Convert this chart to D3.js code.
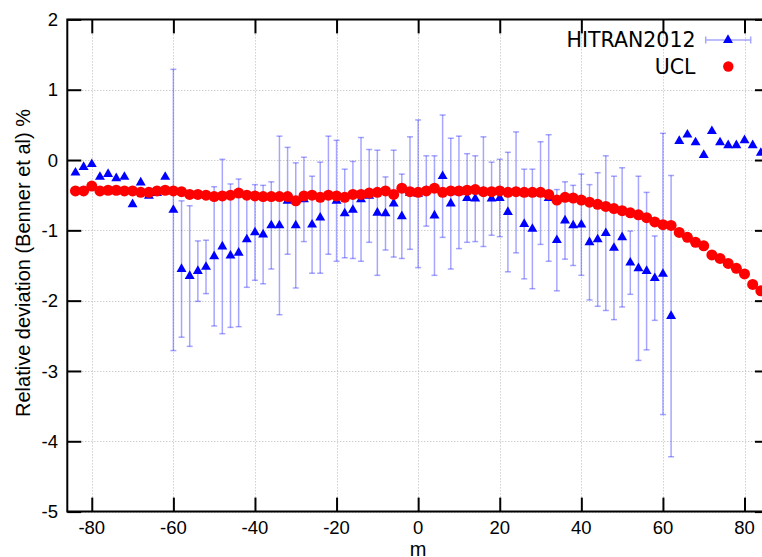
<!DOCTYPE html>
<html>
<head>
<meta charset="utf-8">
<script src="https://cdn.jsdelivr.net/npm/d3@7"></script>
<style>
  body { margin: 0; background: #fff; }
  svg { display: block; }
</style>
</head>
<body>
<div id="chart"></div>
<script>
// rotational index m
var mValues = [-84, -82, -80, -78, -76, -74, -72, -70, -68, -66, -64, -62, -60, -58, -56, -54, -52, -50, -48, -46, -44, -42, -40, -38, -36, -34, -32, -30, -28, -26, -24, -22, -20, -18, -16, -14, -12, -10, -8, -6, -4, -2,
  0, 2, 4, 6, 8, 10, 12, 14, 16, 18, 20, 22, 24, 26, 28, 30, 32, 34, 36, 38, 40, 42, 44, 46, 48, 50, 52, 54, 56, 58, 60, 62, 64, 66, 68, 70, 72, 74, 76, 78, 80, 82, 84];

// HITRAN2012 relative deviation (%)
var hitranValues = [-0.18, -0.10, -0.06, -0.24, -0.20, -0.26, -0.24, -0.63, -0.32, -0.51, -0.47, -0.24, -0.71, -1.55, -1.65, -1.58, -1.52, -1.37, -1.23, -1.36, -1.32, -1.13, -1.03, -1.06, -0.93, -0.93, -0.58, -0.93, -0.56, -0.92, -0.82, -0.50, -0.58, -0.76, -0.71, -0.56, -0.51, -0.75, -0.76, -0.62, -0.80, -0.47,
  -0.48, -0.44, -0.79, -0.23, -0.62, -0.46, -0.54, -0.55, -0.45, -0.55, -0.54, -0.74, -0.46, -0.91, -0.98, -0.47, -0.54, -1.14, -0.86, -0.93, -0.92, -1.17, -1.13, -1.04, -1.25, -1.10, -1.46, -1.54, -1.58, -1.68, -1.62, -2.22, 0.27, 0.36, 0.25, 0.07, 0.41, 0.25, 0.21, 0.21, 0.28, 0.21, 0.10];

// HITRAN2012 uncertainty (%), null where no bar is given
var hitranErrors = [null, null, null, null, null, null, null, null, null, null, null, null, 2.00, 0.97, 1.00, 0.43, 0.38, 0.99, 1.24, 1.02, 1.05, 0.68, 0.68, 0.70, 0.62, 1.27, 0.76, 0.89, 0.60, 0.69, 0.79, 0.84, 0.86, 0.63, 0.69, 0.88, 0.66, 0.89, 0.52, 0.76, 0.60, 0.80,
  1.05, 0.50, 0.85, 0.87, 0.93, 0.80, 0.63, 0.61, 0.78, 0.52, 0.55, 0.85, 0.86, 0.78, 0.85, 0.73, 0.90, 0.72, 0.55, 0.57, 0.72, 0.82, 0.95, 1.10, 1.02, 0.99, 0.45, 1.31, 1.12, 0.60, 2.00, 2.00, null, null, null, null, null, null, null, null, null, null, null];

// UCL relative deviation (%)
var uclValues = [-0.44, -0.44, -0.37, -0.44, -0.43, -0.43, -0.44, -0.44, -0.46, -0.46, -0.44, -0.43, -0.44, -0.45, -0.49, -0.49, -0.50, -0.52, -0.51, -0.50, -0.47, -0.50, -0.51, -0.52, -0.52, -0.52, -0.52, -0.58, -0.51, -0.50, -0.53, -0.50, -0.51, -0.53, -0.49, -0.49, -0.47, -0.46, -0.44, -0.49, -0.40, -0.45,
  -0.46, -0.44, -0.40, -0.46, -0.44, -0.44, -0.43, -0.42, -0.45, -0.45, -0.44, -0.46, -0.45, -0.46, -0.46, -0.46, -0.49, -0.57, -0.53, -0.54, -0.57, -0.60, -0.63, -0.66, -0.69, -0.72, -0.75, -0.78, -0.82, -0.88, -0.92, -0.93, -1.03, -1.10, -1.17, -1.22, -1.35, -1.40, -1.47, -1.54, -1.62, -1.77, -1.86];

var xTicks = [-80, -60, -40, -20, 0, 20, 40, 60, 80];
var yTicks = [-5, -4, -3, -2, -1, 0, 1, 2];
var seriesNames = ['HITRAN2012', 'UCL'];

(function() {

  var width = 762, height = 557;
  var plotLeft = 67.3, plotRight = 769, plotTop = 19.4, plotBottom = 511.6;

  var svg = d3.select('#chart').append('svg')
    .attr('width', width)
    .attr('height', height);

  var x = d3.scaleLinear().domain([-86, 86]).range([plotLeft, plotRight]);
  var y = d3.scaleLinear().domain([-5, 2]).range([plotBottom, plotTop]);

  var rows = mValues.map(function(m, i) {
    return { m: m, h: hitranValues[i], e: hitranErrors[i], u: uclValues[i] };
  });

  // dotted grid
  var grid = svg.append('g').attr('stroke', '#b8b8b8').attr('stroke-width', 1).attr('stroke-dasharray', '1,2');
  grid.selectAll('.gx').data(xTicks).enter().append('line')
    .attr('x1', function(d) { return Math.round(x(d)) + 0.5; })
    .attr('x2', function(d) { return Math.round(x(d)) + 0.5; })
    .attr('y1', plotTop).attr('y2', plotBottom);
  grid.selectAll('.gy').data(yTicks).enter().append('line')
    .attr('y1', function(d) { return Math.round(y(d)) + 0.5; })
    .attr('y2', function(d) { return Math.round(y(d)) + 0.5; })
    .attr('x1', plotLeft).attr('x2', plotRight);

  // axes, ticks pointing inward on all four sides
  var tickLen = 14;
  var axisFont = '"Liberation Sans", Arial, sans-serif';

  var xBottom = svg.append('g').attr('transform', 'translate(0,' + plotBottom + ')')
    .call(d3.axisTop(x).tickValues(xTicks).tickSize(tickLen).tickFormat(''));
  var xTop = svg.append('g').attr('transform', 'translate(0,' + plotTop + ')')
    .call(d3.axisBottom(x).tickValues(xTicks).tickSize(tickLen).tickFormat(''));
  var yLeft = svg.append('g').attr('transform', 'translate(' + plotLeft + ',0)')
    .call(d3.axisRight(y).tickValues(yTicks).tickSize(tickLen).tickFormat(''));
  var yRight = svg.append('g').attr('transform', 'translate(' + plotRight + ',0)')
    .call(d3.axisLeft(y).tickValues(yTicks).tickSize(tickLen).tickFormat(''));

  [xBottom, xTop, yLeft, yRight].forEach(function(g) {
    g.select('.domain').remove();
    g.selectAll('.tick line').attr('stroke', '#000').attr('stroke-width', 2);
  });

  // tick labels
  svg.append('g').selectAll('text').data(xTicks).enter().append('text')
    .attr('x', function(d) { return x(d); })
    .attr('y', 534)
    .attr('text-anchor', 'middle')
    .style('font-family', axisFont).style('font-size', '18.5px')
    .text(function(d) { return d; });

  svg.append('g').selectAll('text').data(yTicks).enter().append('text')
    .attr('x', 58)
    .attr('y', function(d) { return y(d) + 6.6; })
    .attr('text-anchor', 'end')
    .style('font-family', axisFont).style('font-size', '18.5px')
    .text(function(d) { return d; });

  // axis titles
  svg.append('text')
    .attr('x', x(0)).attr('y', 556)
    .attr('text-anchor', 'middle')
    .style('font-family', axisFont).style('font-size', '20px')
    .text('m');

  svg.append('text')
    .attr('transform', 'translate(29.5,' + 263 + ') rotate(-90)')
    .attr('text-anchor', 'middle')
    .style('font-family', axisFont).style('font-size', '20px')
    .text('Relative deviation (Benner et al) %');

  // HITRAN error bars
  var errColor = 'rgba(0,0,255,0.35)';
  var withErr = rows.filter(function(d) { return d.e !== null; });
  var bars = svg.append('g').attr('stroke', errColor).attr('stroke-width', 1.5);
  bars.selectAll('.bar').data(withErr).enter().append('line')
    .attr('x1', function(d) { return x(d.m); })
    .attr('x2', function(d) { return x(d.m); })
    .attr('y1', function(d) { return y(d.h + d.e); })
    .attr('y2', function(d) { return y(d.h - d.e); });
  bars.selectAll('.capTop').data(withErr).enter().append('line')
    .attr('x1', function(d) { return x(d.m) - 3; })
    .attr('x2', function(d) { return x(d.m) + 3; })
    .attr('y1', function(d) { return y(d.h + d.e); })
    .attr('y2', function(d) { return y(d.h + d.e); });
  bars.selectAll('.capBot').data(withErr).enter().append('line')
    .attr('x1', function(d) { return x(d.m) - 3; })
    .attr('x2', function(d) { return x(d.m) + 3; })
    .attr('y1', function(d) { return y(d.h - d.e); })
    .attr('y2', function(d) { return y(d.h - d.e); });

  // HITRAN triangles
  var tri = d3.symbol().type(d3.symbolTriangle).size(43);
  svg.append('g').selectAll('path').data(rows).enter().append('path')
    .attr('d', tri)
    .attr('fill', '#0000ff')
    .attr('transform', function(d) { return 'translate(' + x(d.m) + ',' + y(d.h) + ')'; });

  // UCL circles on top
  svg.append('g').selectAll('circle').data(rows).enter().append('circle')
    .attr('cx', function(d) { return x(d.m); })
    .attr('cy', function(d) { return y(d.u); })
    .attr('r', 5.5)
    .attr('fill', '#ff0000');

  // frame
  svg.append('path')
    .attr('d', 'M' + plotRight + ',' + plotTop + 'H' + plotLeft + 'V' + plotBottom + 'H' + plotRight)
    .attr('fill', 'none').attr('stroke', '#000').attr('stroke-width', 2);

  // legend
  var legendFont = '"DejaVu Sans", sans-serif';
  var legend = svg.append('g');
  legend.selectAll('text').data(seriesNames).enter().append('text')
    .attr('x', 695.5)
    .attr('y', function(d, i) { return 47 + i * 26.5; })
    .attr('text-anchor', 'end')
    .style('font-family', legendFont).style('font-size', '20.5px')
    .text(function(d) { return d; });

  var ly = 40;
  legend.append('path')
    .attr('d', 'M705.7,' + ly + 'H750.7M705.7,' + (ly - 3.5) + 'V' + (ly + 3.5) + 'M750.7,' + (ly - 3.5) + 'V' + (ly + 3.5))
    .attr('stroke', errColor).attr('stroke-width', 1.5).attr('fill', 'none');
  legend.append('path')
    .attr('d', tri)
    .attr('fill', '#0000ff')
    .attr('transform', 'translate(728,' + ly + ')');
  legend.append('circle')
    .attr('cx', 728.3).attr('cy', ly + 26.5)
    .attr('r', 5.2)
    .attr('fill', '#ff0000');

})();
</script>
</body>
</html>
